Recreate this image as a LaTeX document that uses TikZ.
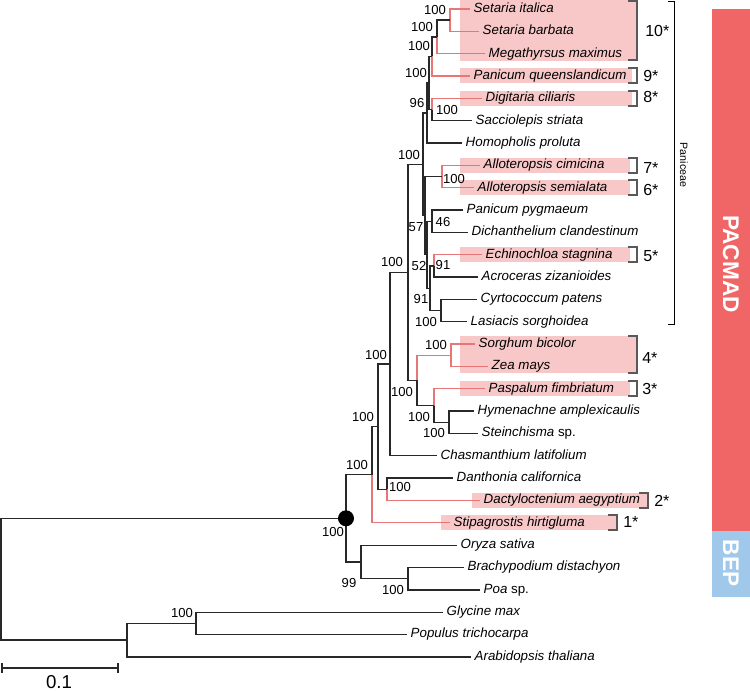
\documentclass[tikz,border=0pt]{standalone}
\usepackage{fontspec}
\setmainfont{Liberation Sans}

\definecolor{c4red}{RGB}{232,118,118}
\definecolor{c4box}{RGB}{248,200,200}
\definecolor{pacmad}{RGB}{240,102,102}
\definecolor{bep}{RGB}{160,200,235}
\definecolor{branch}{RGB}{40,40,40}

\begin{document}
\begin{tikzpicture}[x=0.75pt, y=-0.75pt,
    br/.style={line width=1.05pt, branch},
    c4/.style={line width=1.05pt, c4red},
    taxon/.style={anchor=west, inner xsep=2.6pt, inner ysep=0pt,
      text height=7pt, text depth=2pt,
      font=\fontsize{10}{12}\selectfont\itshape},
    bs/.style={inner sep=0pt, font=\fontsize{9.8}{11}\selectfont},
    hl/.style={fill=c4box, draw=none},
    brk/.style={line width=0.9pt, black!65},
    origin/.style={anchor=west, inner sep=0pt, font=\fontsize{12}{14}\selectfont},
  ]

    \useasboundingbox (0,0) rectangle (750,691);

    % ==================================================
    % C4 highlight boxes
    % ==================================================
    \fill[hl] (460,0)   rectangle (637,61);
    \fill[hl] (460,68)  rectangle (632,83);
    \fill[hl] (460,91)  rectangle (632,106);
    \fill[hl] (460,158) rectangle (630,173);
    \fill[hl] (460,180) rectangle (630,195);
    \fill[hl] (460,247) rectangle (630,262);
    \fill[hl] (460,336) rectangle (637,373);
    \fill[hl] (460,381) rectangle (630,396);
    \fill[hl] (472,493) rectangle (648,508);
    \fill[hl] (441,515) rectangle (617,530);

    % ==================================================
    % taxa
    % ==================================================
    \node[taxon] (tSi)  at (470,9.0)   {Setaria italica};
    \node[taxon] (tSb)  at (479,31.3)  {Setaria barbata};
    \node[taxon] (tMm)  at (485,53.7)  {Megathyrsus maximus};
    \node[taxon] (tPq)  at (470,76.0)  {Panicum queenslandicum};
    \node[taxon] (tDc)  at (482,98.4)  {Digitaria ciliaris};
    \node[taxon] (tSs)  at (472,120.7) {Sacciolepis striata};
    \node[taxon] (tHp)  at (462,143.0) {Homopholis proluta};
    \node[taxon] (tAc)  at (480,165.4) {Alloteropsis cimicina};
    \node[taxon] (tAs)  at (474,187.7) {Alloteropsis semialata};
    \node[taxon] (tPp)  at (463,210.1) {Panicum pygmaeum};
    \node[taxon] (tDcl) at (468,232.4) {Dichanthelium clandestinum};
    \node[taxon] (tEs)  at (482,254.7) {Echinochloa stagnina};
    \node[taxon] (tAz)  at (478,277.1) {Acroceras zizanioides};
    \node[taxon] (tCp)  at (477,299.4) {Cyrtococcum patens};
    \node[taxon] (tLs)  at (467,321.8) {Lasiacis sorghoidea};
    \node[taxon] (tSbi) at (475,344.1) {Sorghum bicolor};
    \node[taxon] (tZm)  at (488,366.4) {Zea mays};
    \node[taxon] (tPf)  at (485,388.8) {Paspalum fimbriatum};
    \node[taxon] (tHa)  at (474,411.1) {Hymenachne amplexicaulis};
    \node[taxon] (tSt)  at (478,433.5) {Steinchisma \upshape sp.};
    \node[taxon] (tCl)  at (437,455.8) {Chasmanthium latifolium};
    \node[taxon] (tDca) at (453,478.1) {Danthonia californica};
    \node[taxon] (tDae) at (480,500.5) {Dactyloctenium aegyptium};
    \node[taxon] (tSh)  at (450,522.8) {Stipagrostis hirtigluma};
    \node[taxon] (tOs)  at (457,545.2) {Oryza sativa};
    \node[taxon] (tBd)  at (464,567.5) {Brachypodium distachyon};
    \node[taxon] (tPoa) at (480,589.8) {Poa \upshape sp.};
    \node[taxon] (tGm)  at (443,612.2) {Glycine max};
    \node[taxon] (tPt)  at (407,634.5) {Populus trichocarpa};
    \node[taxon] (tAt)  at (471,656.9) {Arabidopsis thaliana};

    % ==================================================
    % internal nodes
    % ==================================================
    % Paniceae
    \coordinate (nSet)  at (450,20.15);
    \coordinate (nSM)   at (437,36.9);
    \coordinate (nSMP)  at (432,56.45);
    \coordinate (nDS)   at (432,109.55);
    \coordinate (nUp)   at (429,83.0);
    \coordinate (nHom)  at (427,113.0);
    \coordinate (nAl)   at (442,176.55);
    \coordinate (nPD)   at (432,221.25);
    \coordinate (nEA)   at (434,265.9);
    \coordinate (nCL)   at (441,310.6);
    \coordinate (nL3)   at (430,288.25);
    \coordinate (nL2)   at (427,254.75);
    \coordinate (nL1)   at (425,215.65);
    \coordinate (nPan)  at (423,164.3);
    % Andropogoneae + Paspaleae
    \coordinate (nSZ)   at (451,355.25);
    \coordinate (nHS)   at (449,422.3);
    \coordinate (nPHS)  at (434,405.55);
    \coordinate (nAP)   at (417,380.4);
    % PACMAD backbone
    \coordinate (nPanAP) at (408,272.35);
    \coordinate (nChas) at (390,364.1);
    \coordinate (nDD)   at (387,489.3);
    \coordinate (nCD)   at (378,426.7);
    \coordinate (nPAC)  at (372,474.75);
    % BEP
    \coordinate (nBEP2) at (408,578.65);
    \coordinate (nBEP)  at (361,561.9);
    % grasses, dicots, root
    \coordinate (nGr)   at (346,518.3);
    \coordinate (nGP)   at (196,623.35);
    \coordinate (nDic)  at (127,640.1);
    \coordinate (nRoot) at (1,579.2);

    % ==================================================
    % branches
    % ==================================================
    \draw[c4] (nSet) |- (tSi.west);
    \draw[c4] (nSet) |- (tSb.west);
    \draw[br] (nSM) |- (nSet);
    \draw[c4] (nSM) |- (tMm.west);
    \draw[br] (nSMP) |- (nSM);
    \draw[c4] (nSMP) |- (tPq.west);
    \draw[c4] (nDS) |- (tDc.west);
    \draw[br] (nDS) |- (tSs.west);
    \draw[br] (nUp) |- (nSMP);
    \draw[br] (nUp) |- (nDS);
    \draw[br] (nHom) |- (nUp);
    \draw[br] (nHom) |- (tHp.west);

    \draw[c4] (nAl) |- (tAc.west);
    \draw[c4] (nAl) |- (tAs.west);
    \draw[br] (nPD) |- (tPp.west);
    \draw[br] (nPD) |- (tDcl.west);
    \draw[c4] (nEA) |- (tEs.west);
    \draw[br] (nEA) |- (tAz.west);
    \draw[br] (nCL) |- (tCp.west);
    \draw[br] (nCL) |- (tLs.west);
    \draw[br] (nL3) |- (nEA);
    \draw[br] (nL3) |- (nCL);
    \draw[br] (nL2) |- (nPD);
    \draw[br] (nL2) |- (nL3);
    \draw[br] (nL1) |- (nAl);
    \draw[br] (nL1) |- (nL2);
    \draw[br] (nPan) |- (nHom);
    \draw[br] (nPan) |- (nL1);

    \draw[c4] (nSZ) |- (tSbi.west);
    \draw[c4] (nSZ) |- (tZm.west);
    \draw[br] (nHS) |- (tHa.west);
    \draw[br] (nHS) |- (tSt.west);
    \draw[c4] (nPHS) |- (tPf.west);
    \draw[br] (nPHS) |- (nHS);
    \draw[c4] (nAP) |- (nSZ);
    \draw[br] (nAP) |- (nPHS);

    \draw[br] (nPanAP) |- (nPan);
    \draw[br] (nPanAP) |- (nAP);
    \draw[br] (nChas) |- (nPanAP);
    \draw[br] (nChas) |- (tCl.west);
    \draw[br] (nDD) |- (tDca.west);
    \draw[c4] (nDD) |- (tDae.west);
    \draw[br] (nCD) |- (nChas);
    \draw[br] (nCD) |- (nDD);
    \draw[br] (nPAC) |- (nCD);
    \draw[c4] (nPAC) |- (tSh.west);

    \draw[br] (nBEP2) |- (tBd.west);
    \draw[br] (nBEP2) |- (tPoa.west);
    \draw[br] (nBEP) |- (tOs.west);
    \draw[br] (nBEP) |- (nBEP2);

    \draw[br] (nGr) |- (nPAC);
    \draw[br] (nGr) |- (nBEP);
    \draw[br] (nGP) |- (tGm.west);
    \draw[br] (nGP) |- (tPt.west);
    \draw[br] (nDic) |- (nGP);
    \draw[br] (nDic) |- (tAt.west);
    \draw[br] (nRoot) |- (nGr);
    \draw[br] (nRoot) |- (nDic);

    % crown node of grasses
    \fill[black] (nGr) circle (6pt);

    % ==================================================
    % bootstrap values
    % ==================================================
    \node[bs] (bSet)   at (435,10)  {100};
    \node[bs] (bSM)    at (422,27)  {100};
    \node[bs] (bSMP)   at (419,46)  {100};
    \node[bs] (bUp)    at (416,73)  {100};
    \node[bs] (bHom)   at (417,103) {96};
    \node[bs] (bDS)    at (447,110) {100};
    \node[bs] (bPan)   at (409,155) {100};
    \node[bs] (bAl)    at (454,179) {100};
    \node[bs] (bPD)    at (443,222) {46};
    \node[bs] (bL1)    at (416,227) {57};
    \node[bs] (bEA)    at (443,265) {91};
    \node[bs] (bL2)    at (419,266) {52};
    \node[bs] (bL3)    at (421,299) {91};
    \node[bs] (bCL)    at (426,322) {100};
    \node[bs] (bPanAP) at (392,262) {100};
    \node[bs] (bSZ)    at (436,345) {100};
    \node[bs] (bChas)  at (376,355) {100};
    \node[bs] (bAP)    at (402,392) {100};
    \node[bs] (bPHS)   at (419,417) {100};
    \node[bs] (bHS)    at (434,433) {100};
    \node[bs] (bCD)    at (363,417) {100};
    \node[bs] (bPAC)   at (357,465) {100};
    \node[bs] (bDD)    at (400,487) {100};
    \node[bs] (bGr)    at (333,532) {100};
    \node[bs] (bBEP)   at (349,583) {99};
    \node[bs] (bBEP2)  at (393,590) {100};
    \node[bs] (bGP)    at (182,613) {100};

    % ==================================================
    % C4 origins
    % ==================================================
    \draw[brk] (628,1)   -| (637,60)  -- (628,60);
    \draw[brk] (628,68)  -| (637,83)  -- (628,83);
    \draw[brk] (628,91)  -| (637,106) -- (628,106);
    \draw[brk] (628,158) -| (637,173) -- (628,173);
    \draw[brk] (628,180) -| (637,195) -- (628,195);
    \draw[brk] (628,247) -| (637,262) -- (628,262);
    \draw[brk] (628,336) -| (637,373) -- (628,373);
    \draw[brk] (628,381) -| (637,396) -- (628,396);
    \draw[brk] (639,493) -| (648,508) -- (639,508);
    \draw[brk] (608,515) -| (617,530) -- (608,530);

    \node[origin] (o10) at (645,31)  {10*};
    \node[origin] (o9)  at (643,76)  {9*};
    \node[origin] (o8)  at (643,97)  {8*};
    \node[origin] (o7)  at (643,168) {7*};
    \node[origin] (o6)  at (643,190) {6*};
    \node[origin] (o5)  at (643,256) {5*};
    \node[origin] (o4)  at (642,358) {4*};
    \node[origin] (o3)  at (642,389) {3*};
    \node[origin] (o2)  at (654,501) {2*};
    \node[origin] (o1)  at (623,522) {1*};

    % ==================================================
    % Paniceae, PACMAD, BEP
    % ==================================================
    \draw[line width=0.7pt, black] (668,1) -| (674,324) -- (668,324);
    \node[rotate=-90, inner sep=0pt, font=\fontsize{8}{9}\selectfont]
      (panlbl) at (684,165) {Paniceae};

    \fill[pacmad] (712,9)   rectangle (750,531);
    \fill[bep]    (712,531) rectangle (750,597);
    \node[rotate=-90, white, font=\bfseries\fontsize{17}{20}\selectfont]
      (pacmadlbl) at (731,264) {PACMAD};
    \node[rotate=-90, white, font=\bfseries\fontsize{17}{20}\selectfont]
      (beplbl) at (731,563) {BEP};

    % ==================================================
    % scale bar
    % ==================================================
    \draw[br] (2,663) -- (2,673) (2,668) -- (118,668) (118,663) -- (118,673);
    \node[inner sep=0pt, font=\fontsize{14}{16}\selectfont] (sblbl) at (59,682) {0.1};

  \end{tikzpicture}
\end{document}
